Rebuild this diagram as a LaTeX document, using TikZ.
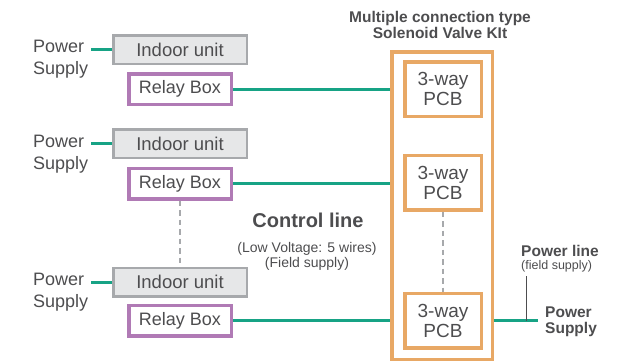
\documentclass[tikz,border=0pt]{standalone}
\usepackage{fontspec}
\setmainfont{Liberation Sans}
\definecolor{txt}{HTML}{4D4D4F}
\definecolor{grn}{HTML}{17A385}
\definecolor{org}{HTML}{E8A865}
\definecolor{pur}{HTML}{B07AB5}
\definecolor{gbd}{HTML}{A7A9AC}
\definecolor{gfl}{HTML}{E6E7E8}
\begin{document}
\begin{tikzpicture}[x=1pt,y=-1pt,
 every node/.style={text=txt, inner sep=0pt},
 indoor/.style={draw=gbd, fill=gfl, line width=2.5pt, minimum width=133.5pt, minimum height=28.5pt, font=\fontsize{18.5}{20}\selectfont},
 relay/.style={draw=pur, fill=white, line width=3.5pt, minimum width=102.5pt, minimum height=30.5pt, font=\fontsize{18}{20}\selectfont},
 pcb/.style={draw=org, fill=white, line width=3.5pt, minimum width=76.5pt, minimum height=54.5pt, align=center, font=\fontsize{19}{20}\selectfont},
 kitbox/.style={draw=org, line width=3.5pt, minimum width=100.5pt, minimum height=307.5pt},
 pslabel/.style={anchor=north west, align=left, font=\fontsize{18}{22}\selectfont},
 wire/.style={draw=grn, line width=3pt},
 dashline/.style={draw=gbd, line width=2pt, dash pattern=on 5.5pt off 4pt},
]
\useasboundingbox (0,0) rectangle (618,362);

% kit
\node[kitbox] (kit) at (442,205.5) {};
\node[anchor=north, align=center, font=\bfseries\fontsize{15.5}{15.6}\selectfont] (title) at (440,11.5) {Multiple connection type\\Solenoid Valve KIt};
\node[pcb] (pcb1) at (443,89) {3-way\\PCB};
\node[pcb] (pcb2) at (443,182.5) {3-way\\PCB};
\node[pcb] (pcb3) at (443,320.5) {3-way\\PCB};
\draw[dashline] (pcb2.south) -- (pcb3.north);

% indoor units and relay boxes
\node[indoor] (iu1) at (180,49.5) {Indoor unit};
\node[indoor] (iu2) at (180,143.5) {Indoor unit};
\node[indoor] (iu3) at (180,282) {Indoor unit};
\node[relay] (rb1) at (180,89) {Relay Box};
\node[relay] (rb2) at (180,183.5) {Relay Box};
\node[relay] (rb3) at (180,320.5) {Relay Box};
\draw[dashline] (rb2.south) -- (iu3.north);

% power supply labels
\node[pslabel] (ps1) at (33,40) {Power\\Supply};
\node[pslabel] (ps2) at (33,135) {Power\\Supply};
\node[pslabel] (ps3) at (33,273) {Power\\Supply};
\draw[wire, shorten <=3pt] (iu1.west -| ps1.east) -- (iu1.west);
\draw[wire, shorten <=3pt] (iu2.west -| ps2.east) -- (iu2.west);
\draw[wire, shorten <=3pt] (iu3.west -| ps3.east) -- (iu3.west);

% control lines
\draw[wire] (rb1.east) -- (rb1.east -| kit.west);
\draw[wire] (rb2.east) -- (rb2.east -| kit.west);
\draw[wire] (rb3.east) -- (rb3.east -| kit.west);
\node[anchor=base, font=\bfseries\fontsize{20}{22}\selectfont] (ctl) at (308,227) {Control line};
\node[anchor=north, align=center, font=\fontsize{14}{14.7}\selectfont] (ctlsub) at (307,242.5) {(Low Voltage: 5 wires)\\(Field supply)};

% power line
\coordinate (pse) at (538,320.5);
\coordinate (tap) at (526,320.5);
\coordinate (taptop) at (526,276);
\draw[wire] (kit.east |- pcb3) -- (pse);
\draw[draw=txt, line width=1pt] (tap) -- (taptop);
\node[anchor=north west, align=left, font=\fontsize{12.5}{12.5}\selectfont] (pl) at (521,245.5) {{\bfseries\fontsize{15.5}{15.5}\selectfont Power line}\\(field supply)};
\node[anchor=north west, align=left, font=\bfseries\fontsize{15.5}{16}\selectfont] (psr) at (545,306.5) {Power\\Supply};
\end{tikzpicture}
\end{document}
